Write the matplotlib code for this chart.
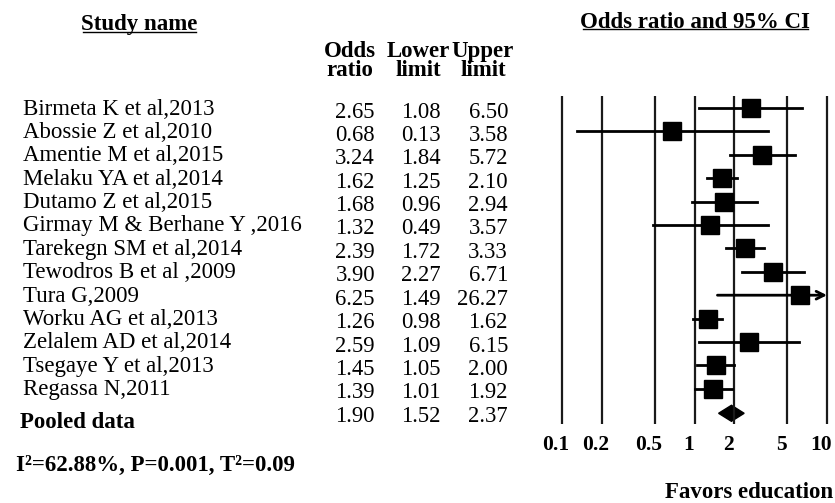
import numpy as np
import matplotlib.pyplot as plt
from matplotlib.transforms import offset_copy

plt.rcParams['font.family'] = ['Liberation Serif', 'DejaVu Serif']

# Forest plot data
studies = ['Birmeta K et al,2013', 'Abossie Z et al,2010', 'Amentie M et al,2015',
           'Melaku YA et al,2014', 'Dutamo Z et al,2015', 'Girmay M & Berhane Y ,2016',
           'Tarekegn SM et al,2014', 'Tewodros B et al ,2009', 'Tura G,2009',
           'Worku AG et al,2013', 'Zelalem AD et al,2014', 'Tsegaye Y et al,2013',
           'Regassa N,2011']
odds = [2.65, 0.68, 3.24, 1.62, 1.68, 1.32, 2.39, 3.90, 6.25, 1.26, 2.59, 1.45, 1.39]
lower = [1.08, 0.13, 1.84, 1.25, 0.96, 0.49, 1.72, 2.27, 1.49, 0.98, 1.09, 1.05, 1.01]
upper = [6.50, 3.58, 5.72, 2.10, 2.94, 3.57, 3.33, 6.71, 26.27, 1.62, 6.15, 2.00, 1.92]
pooled = (1.90, 1.52, 2.37)
ticks = [0.1, 0.2, 0.5, 1, 2, 5, 10]
tick_labels = ['0.1', '0.2', '0.5', '1', '2', '5', '10']
stats_text = 'I²=62.88%, P=0.001, T²=0.09'

fig = plt.figure(figsize=(8.35, 5.03), dpi=100)

# background axis in pixel coords for the table text
bg = fig.add_axes([0, 0, 1, 1])
bg.set_xlim(0, 835)
bg.set_ylim(503, 0)
bg.axis('off')

# forest axis, log scale from 0.1 to 10
ax = fig.add_axes([562 / 835, 0, 265 / 835, 1])
ax.set_xscale('log')
ax.set_xlim(0.1, 10)
ax.set_ylim(503, 0)
ax.axis('off')

fs = 16.5
nfs = 16.3
row_y = 108 + 23.4 * np.arange(len(studies))
pool_y = row_y[-1] + 24.5

# headers
bg.text(139, 24, 'Study name', fontsize=fs, fontweight='bold', ha='center', va='center')
bg.plot([83, 196], [32, 32], color='black', lw=1)
bg.text(695, 22, 'Odds ratio and 95% CI', fontsize=fs, fontweight='bold', ha='center', va='center')
bg.plot([583, 808], [29, 29], color='black', lw=1)

head_x = [350, 418, 483]
for x, h1, h2 in zip(head_x, ['Odds', 'Lower', 'Upper'], ['ratio', 'limit', 'limit']):
    bg.text(x, 51, h1, fontsize=fs, fontweight='bold', ha='center', va='center')
    bg.text(x, 70, h2, fontsize=fs, fontweight='bold', ha='center', va='center')

# number columns, right aligned
cols = [375, 441, 508]

for i, name in enumerate(studies):
    y = row_y[i]
    bg.text(23, y + 1, name, fontsize=fs, ha='left', va='center')
    for x, v in zip(cols, [odds[i], lower[i], upper[i]]):
        bg.text(x, y + 4, f'{v:.2f}', fontsize=nfs, ha='right', va='center')

bg.text(20, 423, 'Pooled data', fontsize=fs, fontweight='bold', ha='left', va='center')
for x, v in zip(cols, pooled):
    bg.text(x, row_y[-1] + 27.4, f'{v:.2f}', fontsize=nfs, ha='right', va='center')
bg.text(16, 465, stats_text, fontsize=fs, fontweight='bold', ha='left', va='center')

# vertical reference lines
ax.vlines(ticks, 96, 424, color='#1a1a1a', lw=1.6, clip_on=False)
lab_tr = offset_copy(ax.transData, fig=fig, x=-6, y=0, units='dots')
for t, lab in zip(ticks, tick_labels):
    ax.text(t, 445, lab, fontsize=15.5, fontweight='bold', ha='center', va='center',
            transform=lab_tr, clip_on=False)

# CIs and squares
for i in range(len(studies)):
    y = row_y[i]
    if upper[i] > 10:
        ax.annotate('', xy=(10, y), xytext=(lower[i], y),
                    arrowprops=dict(arrowstyle='->', lw=2, color='black', mutation_scale=14,
                                    shrinkA=0, shrinkB=0),
                    annotation_clip=False)
    else:
        ax.plot([lower[i], upper[i]], [y, y], color='black', lw=2, clip_on=False)
    ax.plot(odds[i], y, marker='s', markersize=13.5, color='black', clip_on=False)

# pooled diamond
pm, pl, pu = pooled
ax.fill([pl, pm, pu, pm], [pool_y, pool_y - 8, pool_y, pool_y + 8], color='black', clip_on=False)

bg.text(665, 493, 'Favors education', fontsize=fs, fontweight='bold', ha='left', va='center')

fig.savefig('out.png', dpi=100)
